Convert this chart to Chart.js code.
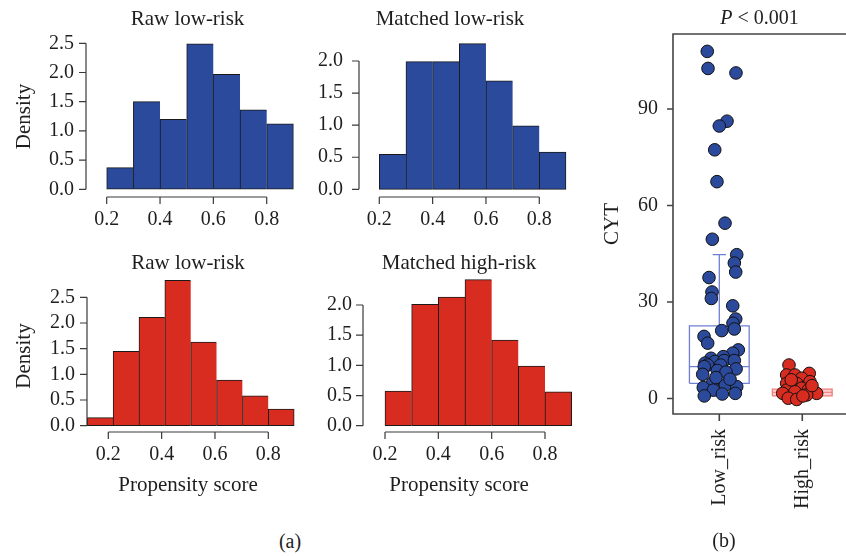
<!DOCTYPE html>
<html>
<head>
<meta charset="utf-8">
<script src="https://cdn.jsdelivr.net/npm/chart.js@4.4.1/dist/chart.umd.min.js"></script>
<style>
  body { margin: 0; background: #fff; }
  #wrap { position: relative; width: 846px; height: 556px; overflow: hidden; font-family: "Liberation Serif", serif; }
  canvas { position: absolute; }
  .tag { position: absolute; width: 60px; margin-left: -30px; text-align: center; font-size: 20px; color: #1e1e1e; }
</style>
</head>
<body>
<div id="wrap">
  <canvas id="rawLow" width="300" height="240" style="left:0;top:0"></canvas>
  <canvas id="matchedLow" width="300" height="240" style="left:290px;top:0"></canvas>
  <canvas id="rawHigh" width="300" height="266" style="left:0;top:244px"></canvas>
  <canvas id="matchedHigh" width="300" height="266" style="left:290px;top:244px"></canvas>
  <canvas id="cyt" width="246" height="556" style="left:600px;top:0"></canvas>
  <div class="tag" style="left:290px;top:530px">(a)</div>
  <div class="tag" style="left:724px;top:529px">(b)</div>
</div>
<script>
// propensity score histograms (density per bin)
const binEdges = [0.2, 0.3, 0.4, 0.5, 0.6, 0.7, 0.8, 0.9];
const rawHighEdges = [0.121, 0.218, 0.315, 0.412, 0.509, 0.606, 0.703, 0.8, 0.897];
const rawLowDensity = [0.37, 1.50, 1.20, 2.49, 1.97, 1.36, 1.12];
const matchedLowDensity = [0.545, 1.99, 1.99, 2.27, 1.69, 0.99, 0.58];
const rawHighDensity = [0.156, 1.45, 2.11, 2.83, 1.63, 0.89, 0.58, 0.325];
const matchedHighDensity = [0.575, 2.01, 2.13, 2.42, 1.42, 0.99, 0.56];
const scoreTicks = [0.2, 0.4, 0.6, 0.8];
const densityTicksTall = [0, 0.5, 1.0, 1.5, 2.0, 2.5];
const densityTicksShort = [0, 0.5, 1.0, 1.5, 2.0];

// CYT score per sample, with horizontal jitter inside each group
const groups = ['Low_risk', 'High_risk'];
const lowCyt = [107.9, 102.6, 101.2, 86.2, 84.7, 77.3, 67.4, 54.5, 49.5, 44.7, 42.1, 39.3, 37.6, 33.1, 31.1,
  28.8, 24.7, 23.4, 21.6, 21.1, 19.3, 17.2, 15.1, 14.1, 13.0, 12.5, 11.5, 11.8, 11.8, 11.0, 10.4, 10.4,
  9.9, 9.2, 8.7, 8.2, 7.5, 4.9, 4.2, 3.7, 3.4, 2.6, 0.8, 1.4, 1.6, 6.0, 6.5];
const lowJitter = [-0.145, -0.136, 0.201, 0.093, 0.0, -0.055, -0.028, 0.069, -0.084, 0.210, 0.181, 0.198, -0.124, -0.088, -0.096,
  0.162, 0.198, 0.165, 0.181, 0.029, -0.184, -0.140, 0.229, 0.162, 0.048, -0.100, -0.052, 0.057, 0.181, -0.172, -0.140, 0.017,
  -0.181, 0.202, -0.024, 0.081, -0.200, -0.080, 0.072, 0.210, -0.193, -0.072, -0.181, 0.036, 0.193, 0.129, -0.040];
const highCyt = [10.4, 7.3, 7.3, 7.8, 6.3, 5.2, 4.7, 4.7, 2.6, 3.2, 2.6, 1.6, 1.6, 2.1, 0.1, -0.3, 1.1, 5.8, 0.8, 4.0];
const highJitter = [-0.160, -0.188, -0.088, 0.084, -0.007, 0.093, -0.188, -0.067, -0.188, -0.007, 0.072, 0.173, -0.236, -0.088,
  -0.169, -0.067, 0.053, -0.133, 0.008, 0.117];
// lower whisker, Q1, median, Q3, upper whisker
const lowBox = [0.8, 4.7, 9.9, 22.6, 44.7];
const highBox = [-0.3, 0.8, 1.9, 2.9, 5.8];
const cytTicks = [0, 30, 60, 90];

const blue = '#2B4A9C';
const red = '#D82C20';
Chart.defaults.font.family = '"Liberation Serif", "Times New Roman", serif';
Chart.defaults.font.size = 20;
Chart.defaults.color = '#1e1e1e';
const labelFont = {size: 21, weight: 'normal'};

// base-graphics style axes: lines only span the tick range
const rAxes = {
  id: 'rAxes',
  afterDraw(chart) {
    const {ctx, chartArea: a, scales: {x, y}} = chart;
    const xs = x.ticks.map(t => x.getPixelForValue(t.value));
    const ys = y.ticks.map(t => y.getPixelForValue(t.value));
    ctx.save();
    ctx.strokeStyle = '#3a3a3a';
    ctx.lineWidth = 1.2;
    ctx.beginPath();
    ctx.moveTo(a.left, ys[0]);
    ctx.lineTo(a.left, ys[ys.length - 1]);
    ys.forEach(p => { ctx.moveTo(a.left, p); ctx.lineTo(a.left - 7, p); });
    ctx.moveTo(xs[0], a.bottom);
    ctx.lineTo(xs[xs.length - 1], a.bottom);
    xs.forEach(p => { ctx.moveTo(p, a.bottom); ctx.lineTo(p, a.bottom + 7); });
    ctx.stroke();
    ctx.restore();
  }
};

function histogram(id, title, edges, density, color, o) {
  const bars = density.map((y, i) => ({x: (edges[i] + edges[i + 1]) / 2, y}));
  const last = bars.length - 1;
  new Chart(document.getElementById(id), {
    type: 'bar',
    data: {
      datasets: [{
        data: bars,
        backgroundColor: color,
        borderColor: '#1a1a1a',
        borderWidth: c => c.dataIndex === last ? 1 : {top: 1, bottom: 1, left: 1, right: 0},
        borderSkipped: false,
        barPercentage: 1,
        categoryPercentage: 1,
        clip: false,
      }]
    },
    options: {
      responsive: false,
      animation: false,
      events: [],
      layout: {autoPadding: false, padding: {right: o.padRight}},
      plugins: {
        legend: {display: false},
        tooltip: {enabled: false},
        title: {
          display: true, text: title, fullSize: false,
          font: labelFont,
          padding: {top: 6.5, bottom: 4.3},
        },
      },
      scales: {
        x: {
          type: 'linear', offset: false, min: o.xMin, max: o.xMax,
          grid: {display: false, drawTicks: false},
          border: {display: false},
          ticks: {padding: 11, callback: v => v.toFixed(1)},
          afterBuildTicks: s => { s.ticks = scoreTicks.map(value => ({value})); },
          afterFit: s => { s.height = o.xh; },
          title: {display: !!o.xTitle, text: o.xTitle, font: labelFont, padding: {top: 0, bottom: 12.4}},
        },
        y: {
          min: o.yMin, max: o.yMax,
          grid: {display: false, drawTicks: false},
          border: {display: false},
          ticks: {padding: o.yPad, callback: v => v.toFixed(1)},
          afterBuildTicks: s => { s.ticks = o.yTicks.map(value => ({value})); },
          afterFit: s => { s.width = o.yw; },
          title: {display: !!o.yTitle, text: o.yTitle, font: labelFont, padding: {top: 11.4, bottom: 0}},
        },
      },
    },
    plugins: [rAxes],
  });
}

histogram('rawLow', 'Raw low-risk', binEdges, rawLowDensity, blue, {
  xMin: 0.1224, xMax: 0.8836, yMin: -0.132, yMax: 2.625, yTicks: densityTicksTall,
  yw: 86, xh: 43, padRight: 11, yPad: 12, yTitle: 'Density',
});
histogram('matchedLow', 'Matched low-risk', binEdges, matchedLowDensity, blue, {
  xMin: 0.1239, xMax: 0.8064, yMin: -0.12, yMax: 2.39, yTicks: densityTicksShort,
  yw: 69, xh: 43, padRight: 49, yPad: 16,
});
histogram('rawHigh', 'Raw low-risk', rawHighEdges, rawHighDensity, red, {
  xMin: 0.1201, xMax: 0.8776, yMin: -0.123, yMax: 2.837, yTicks: densityTicksTall,
  yw: 87, xh: 78, padRight: 11, yPad: 12, yTitle: 'Density', xTitle: 'Propensity score',
});
histogram('matchedHigh', 'Matched high-risk', binEdges, matchedHighDensity, red, {
  xMin: 0.1175, xMax: 0.8375, yMin: -0.104, yMax: 2.414, yTicks: densityTicksShort,
  yw: 73, xh: 78, padRight: 35, yPad: 11, xTitle: 'Propensity score',
});

// box plot pieces, in category units
const boxHalf = 0.36;
const capHalf = 0.08;

function boxShape(c, s) {
  return [
    {x: c - boxHalf, y: s[1]}, {x: c + boxHalf, y: s[1]},
    {x: c + boxHalf, y: s[3]}, {x: c - boxHalf, y: s[3]},
    {x: c - boxHalf, y: s[1]},
  ];
}

function boxLines(c, s) {
  return [
    {x: c - boxHalf, y: s[2]}, {x: c + boxHalf, y: s[2]}, {x: c, y: null},
    {x: c, y: s[3]}, {x: c, y: s[4]}, {x: c, y: null},
    {x: c - capHalf, y: s[4]}, {x: c + capHalf, y: s[4]}, {x: c, y: null},
    {x: c, y: s[1]}, {x: c, y: s[0]}, {x: c, y: null},
    {x: c - capHalf, y: s[0]}, {x: c + capHalf, y: s[0]},
  ];
}

const boxStyle = (data, line, fill, order) => ({
  data, showLine: true, pointRadius: 0, borderColor: line, borderWidth: 1.3,
  backgroundColor: fill, fill: fill ? 'shape' : false, order,
});

const dots = (values, jitter, c, color) => ({
  data: values.map((y, i) => ({x: c + jitter[i], y})),
  pointRadius: 6.3,
  pointBackgroundColor: color,
  pointBorderColor: '#111',
  pointBorderWidth: 1,
  order: 0,
});

// boxed frame with outward ticks plus the test result above
const frame = {
  id: 'frame',
  afterDraw(chart) {
    const {ctx, chartArea: a, scales: {x, y}} = chart;
    ctx.save();
    ctx.strokeStyle = '#444';
    ctx.lineWidth = 1.6;
    ctx.beginPath();
    ctx.moveTo(a.right + 2, a.top);
    ctx.lineTo(a.left, a.top);
    ctx.lineTo(a.left, a.bottom);
    ctx.lineTo(a.right + 2, a.bottom);
    y.ticks.forEach(t => { const p = y.getPixelForValue(t.value); ctx.moveTo(a.left, p); ctx.lineTo(a.left - 6, p); });
    x.ticks.forEach(t => { const p = x.getPixelForValue(t.value); ctx.moveTo(p, a.bottom); ctx.lineTo(p, a.bottom + 7); });
    ctx.stroke();

    const fam = Chart.defaults.font.family;
    const rest = ' < 0.001';
    ctx.fillStyle = '#1e1e1e';
    ctx.textBaseline = 'middle';
    ctx.textAlign = 'left';
    ctx.font = 'italic 20px ' + fam;
    const wp = ctx.measureText('P').width;
    ctx.font = '20px ' + fam;
    const wr = ctx.measureText(rest).width;
    const x0 = (a.left + a.right) / 2 - (wp + wr) / 2;
    ctx.font = 'italic 20px ' + fam;
    ctx.fillText('P', x0, 19);
    ctx.font = '20px ' + fam;
    ctx.fillText(rest, x0 + wp, 19);
    ctx.restore();
  }
};

new Chart(document.getElementById('cyt'), {
  type: 'scatter',
  data: {
    datasets: [
      dots(lowCyt, lowJitter, 1, blue),
      dots(highCyt, highJitter, 2, red),
      boxStyle(boxShape(1, lowBox), '#6F7FD2', null, 2),
      boxStyle(boxLines(1, lowBox), '#6F7FD2', null, 2),
      boxStyle(boxShape(2, highBox), '#F07C7C', 'rgba(245,150,150,0.45)', 2),
      boxStyle(boxLines(2, highBox), '#F07C7C', null, 2),
    ]
  },
  options: {
    responsive: false,
    animation: false,
    events: [],
    layout: {autoPadding: false, padding: {top: 34}},
    plugins: {legend: {display: false}, tooltip: {enabled: false}},
    scales: {
      x: {
        type: 'linear', min: 0.442, max: 2.527,
        grid: {display: false, drawTicks: false},
        border: {display: false},
        ticks: {padding: 15, minRotation: 90, maxRotation: 90, autoSkip: false, callback: v => groups[v - 1]},
        afterBuildTicks: s => { s.ticks = groups.map((g, i) => ({value: i + 1})); },
        afterFit: s => { s.height = 142; },
      },
      y: {
        min: -4.82, max: 113.3,
        grid: {display: false, drawTicks: false},
        border: {display: false},
        ticks: {padding: 15},
        afterBuildTicks: s => { s.ticks = cytTicks.map(value => ({value})); },
        afterFit: s => { s.width = 73; },
        title: {display: true, text: 'CYT', font: labelFont, padding: {top: 0, bottom: 0}},
      },
    },
  },
  plugins: [frame],
});
</script>
</body>
</html>
